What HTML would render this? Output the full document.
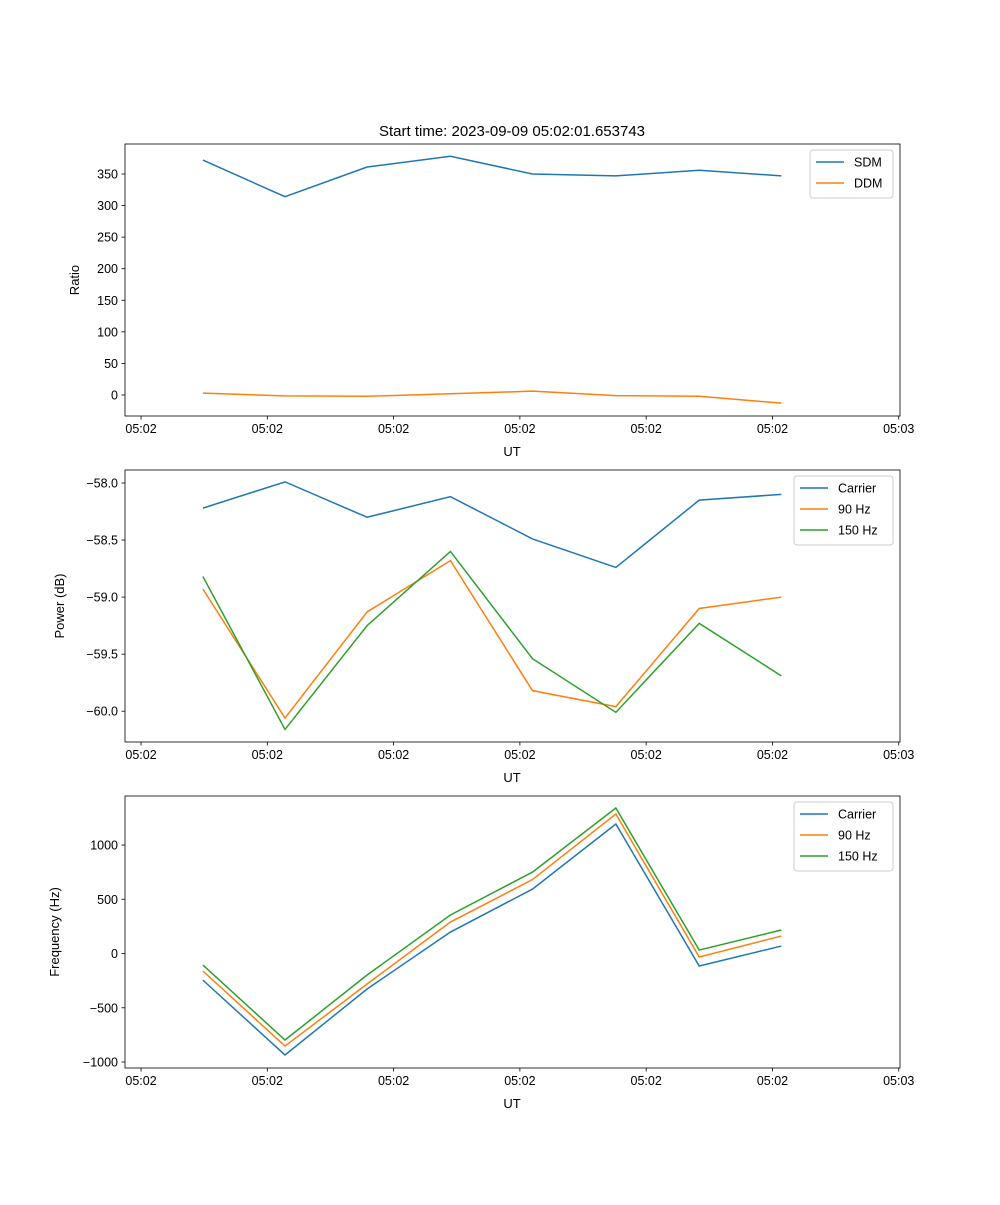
<!DOCTYPE html>
<html><head><meta charset="utf-8"><style>
body{margin:0;background:#fff}
svg{font-family:"Liberation Sans","DejaVu Sans",sans-serif;}
</style></head><body>
<svg id="fig" width="1000" height="1200" xmlns="http://www.w3.org/2000/svg">
<rect width="1000" height="1200" fill="#fff"/>
<text x="512" y="136" font-size="15" text-anchor="middle">Start time: 2023-09-09 05:02:01.653743</text>
</svg>
<script>
const times=[4.9,11.4,17.9,24.5,31.0,37.6,44.2,50.7];
const xTicks=[0,10,20,30,40,50,60];
const xTickLabels=["05:02","05:02","05:02","05:02","05:02","05:02","05:03"];
const sdm=[372,314,361,378,350,347,356,347];
const ddm=[3,-1.5,-2,2,6,-1,-2,-13];
const pCarrier=[-58.22,-57.99,-58.30,-58.12,-58.49,-58.74,-58.15,-58.10];
const p90=[-58.93,-60.06,-59.13,-58.68,-59.82,-59.96,-59.10,-59.00];
const p150=[-58.82,-60.16,-59.25,-58.60,-59.54,-60.01,-59.23,-59.69];
const fCarrier=[-245,-935,-327,198,594,1194,-115,69];
const f90=[-161,-853,-281,290,682,1286,-32,161];
const f150=[-106,-797,-198,355,751,1341,32,217];
const ratioTicks=[0,50,100,150,200,250,300,350];
const powerTicks=[-58.0,-58.5,-59.0,-59.5,-60.0];
const freqTicks=[-1000,-500,0,500,1000];

const svg=document.getElementById('fig');
const NS='http://www.w3.org/2000/svg';
function el(tag,attrs,parent){const e=document.createElementNS(NS,tag);for(const k in attrs)e.setAttribute(k,attrs[k]);(parent||svg).appendChild(e);return e;}
const X0=125,X1=900,tMin=-1.27,tMax=60.1;
function xs(t){return X0+(t-tMin)/(tMax-tMin)*(X1-X0);}
function panel(name,top,bot,yMin,yMax,yTicks,fmt,ylabel,lx,series,legX,legW){
  const g=el('g',{});
  
  
  const ys=v=>bot-(v-yMin)/(yMax-yMin)*(bot-top);
  series.forEach(s=>{
    const pl=el('polyline',{points:s.v.map((v,i)=>xs(times[i])+','+ys(v)).join(' '),fill:'none',stroke:s.c,'stroke-width':1.5},g);
    
    
  });
  const fr=el('rect',{x:X0,y:top,width:X1-X0,height:bot-top,fill:'none',stroke:'#000','stroke-width':0.8},g);
  
  
  xTicks.forEach((t,i)=>{
    const x=xs(t);
    el('line',{x1:x,x2:x,y1:bot,y2:bot+3.5,stroke:'#000','stroke-width':0.8},g);
    const tx=el('text',{x:x,y:bot+17,'font-size':12.5,'text-anchor':'middle'},g);
    tx.textContent=xTickLabels[i];
    
    
  });
  const xl=el('text',{x:512,y:bot+40,'font-size':13,'text-anchor':'middle'},g);
  xl.textContent='UT';
  
  
  yTicks.forEach(v=>{
    const y=ys(v);
    el('line',{x1:X0-3.5,x2:X0,y1:y,y2:y,stroke:'#000','stroke-width':0.8},g);
    const tx=el('text',{x:X0-7,y:y+4.5,'font-size':12.5,'text-anchor':'end'},g);
    tx.textContent=fmt(v);
    
    
  });
  const yl=el('text',{x:lx,y:(top+bot)/2,'font-size':13,'text-anchor':'middle',transform:`rotate(-90 ${lx} ${(top+bot)/2})`},g);
  yl.textContent=ylabel;
  
  
  const lg=el('g',{},g);
  
  
  el('rect',{x:legX,y:top+6,width:legW,height:series.length*21+6,fill:'#fff',stroke:'#ccc',rx:3},lg);
  series.forEach((s,i)=>{
    const y=top+18+i*21;
    el('line',{x1:legX+6,x2:legX+34,y1:y,y2:y,stroke:s.c,'stroke-width':1.5},lg);
    const t=el('text',{x:legX+44,y:y+4.5,'font-size':12.5},lg);
    t.textContent=s.label;
    
    
  });
}
const minus=s=>s.replace('-','\u2212');
panel('ratio',144,416,-33.3,397.5,ratioTicks,v=>minus(String(v)),'Ratio',79,
 [{id:'sdm',v:sdm,c:'#1f77b4',label:'SDM'},{id:'ddm',v:ddm,c:'#ff7f0e',label:'DDM'}],810,83);
panel('power',470,742,-60.27,-57.886,powerTicks,v=>minus(v.toFixed(1)),'Power (dB)',64,
 [{id:'carrier',v:pCarrier,c:'#1f77b4',label:'Carrier'},{id:'90hz',v:p90,c:'#ff7f0e',label:'90 Hz'},{id:'150hz',v:p150,c:'#2ca02c',label:'150 Hz'}],794,99);
panel('frequency',796,1068,-1055,1452,freqTicks,v=>minus(String(v)),'Frequency (Hz)',59,
 [{id:'carrier',v:fCarrier,c:'#1f77b4',label:'Carrier'},{id:'90hz',v:f90,c:'#ff7f0e',label:'90 Hz'},{id:'150hz',v:f150,c:'#2ca02c',label:'150 Hz'}],794,99);
</script>
</body></html>
